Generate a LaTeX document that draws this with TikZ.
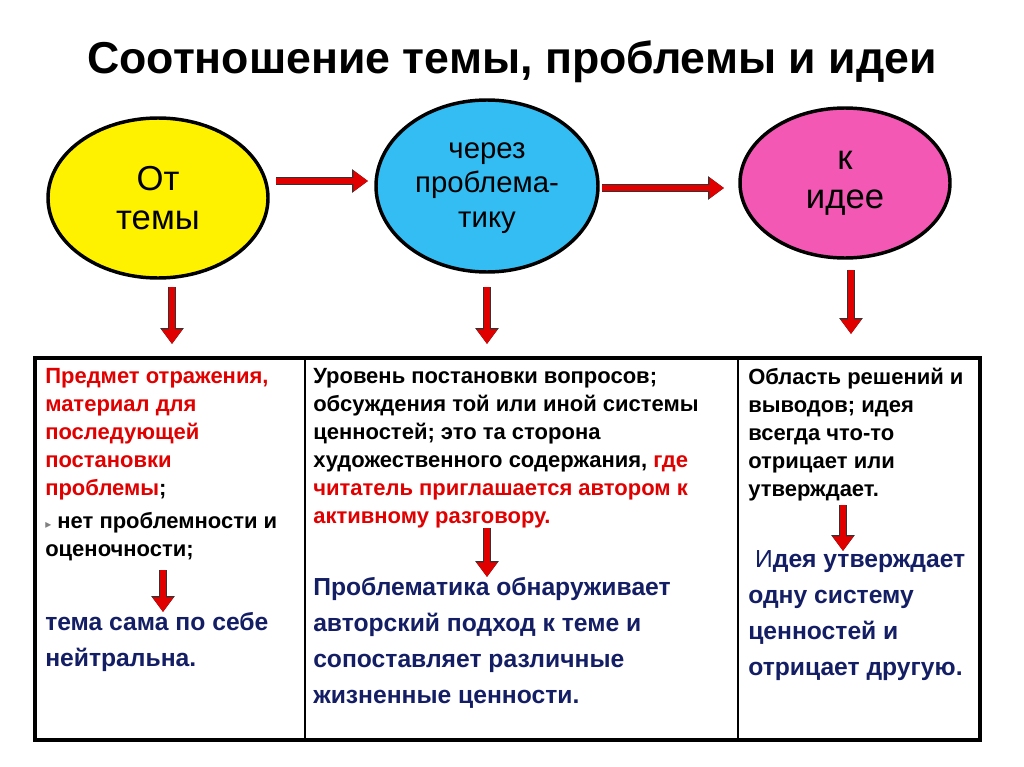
\documentclass[tikz,border=0pt]{standalone}
\usepackage{fontspec}
\setmainfont{Liberation Sans}
\newfontfamily\symfont{DejaVu Sans}
\usetikzlibrary{arrows.meta}
\definecolor{tred}{RGB}{225,0,0}
\definecolor{tblue}{RGB}{20,30,100}
\begin{document}
\begin{tikzpicture}[x=0.75pt,y=-0.75pt,
  bar/.style={draw=tred,line width=4.5pt,-{Triangle[length=11pt,width=15pt]},
    preaction={draw=black!80,line width=6pt,-{Triangle[length=12pt,width=17pt]}}},
  cell/.style={anchor=north west,align=left,font=\fontsize{16.5}{21}\selectfont\bfseries,inner sep=0pt},
  blu/.style={anchor=north west,align=left,font=\fontsize{18.5}{27}\selectfont\bfseries,text=tblue,inner sep=0pt},
  ttxt/.style={font=\fontsize{26}{29}\selectfont,align=center}]
\useasboundingbox (0,0) rectangle (1024,767);
\node (title) at (512,62) {\fontsize{33.5}{38}\selectfont\bfseries Соотношение темы, проблемы и идеи};
\fill[yellow,draw=black,line width=2.6pt] (158,198) ellipse [x radius=110,y radius=80];
\fill[cyan!80!white,draw=black,line width=2.6pt] (487,186) ellipse [x radius=111,y radius=86];
\fill[magenta!65!white,draw=black,line width=2.6pt] (845,183) ellipse [x radius=105,y radius=75];
\node[ttxt] (e1) at (158,198) {От\\темы};
\node[ttxt,font=\fontsize{22}{26}\selectfont] (e2) at (487,188) {через\\проблема-\\тику};
\node[ttxt] (e3) at (845,183) {к\\идее};
\coordinate (a1s) at (276,181); \coordinate (a1e) at (368,181);
\coordinate (a2s) at (602,188); \coordinate (a2e) at (724,188);
\draw[bar] (a1s) -- (a1e);
\draw[bar] (a2s) -- (a2e);
\coordinate (d1s) at (172,287); \coordinate (d1e) at (172,344);
\coordinate (d2s) at (487,287); \coordinate (d2e) at (487,344);
\coordinate (d3s) at (851,270); \coordinate (d3e) at (851,334);
\draw[bar] (d1s) -- (d1e);
\draw[bar] (d2s) -- (d2e);
\draw[bar] (d3s) -- (d3e);
\draw[line width=2.5pt] (35,358) rectangle (980,740);
\draw[line width=1pt] (305,358) -- (305,740) (738,358) -- (738,740);
\node[cell] (c1) at (45,368) {\textcolor{tred}{Предмет отражения,}\\\textcolor{tred}{материал для}\\\textcolor{tred}{последующей}\\\textcolor{tred}{постановки}\\\textcolor{tred}{проблемы};};
\node[cell] (c1b) at (45,512) {{\color{gray}\symfont\fontsize{9}{9}\selectfont ▸} нет проблемности и\\оценочности;};
\node[blu] (c1c) at (45,612) {тема сама по себе\\нейтральна.};
\node[cell] (c2) at (313,368) {Уровень постановки вопросов;\\обсуждения той или иной системы\\ценностей; это та сторона\\художественного содержания, \textcolor{tred}{где}\\\textcolor{tred}{читатель приглашается автором к}\\\textcolor{tred}{активному разговору.}};
\node[blu] (c2c) at (313,577) {Проблематика обнаруживает\\авторский подход к теме и\\сопоставляет различные\\жизненные ценности.};
\node[cell] (c3) at (748,368) {Область решений и\\выводов; идея\\всегда что-то\\отрицает или\\утверждает.};
\node[blu] (c3c) at (748,550) {\mdseries\ И\bfseries дея утверждает\\одну систему\\ценностей и\\отрицает другую.};
\coordinate (s1s) at (163,570); \coordinate (s1e) at (163,612);
\coordinate (s2s) at (487,528); \coordinate (s2e) at (487,577);
\coordinate (s3s) at (843,505); \coordinate (s3e) at (843,551);
\draw[bar] (s1s) -- (s1e);
\draw[bar] (s2s) -- (s2e);
\draw[bar] (s3s) -- (s3e);
\end{tikzpicture}
\end{document}
